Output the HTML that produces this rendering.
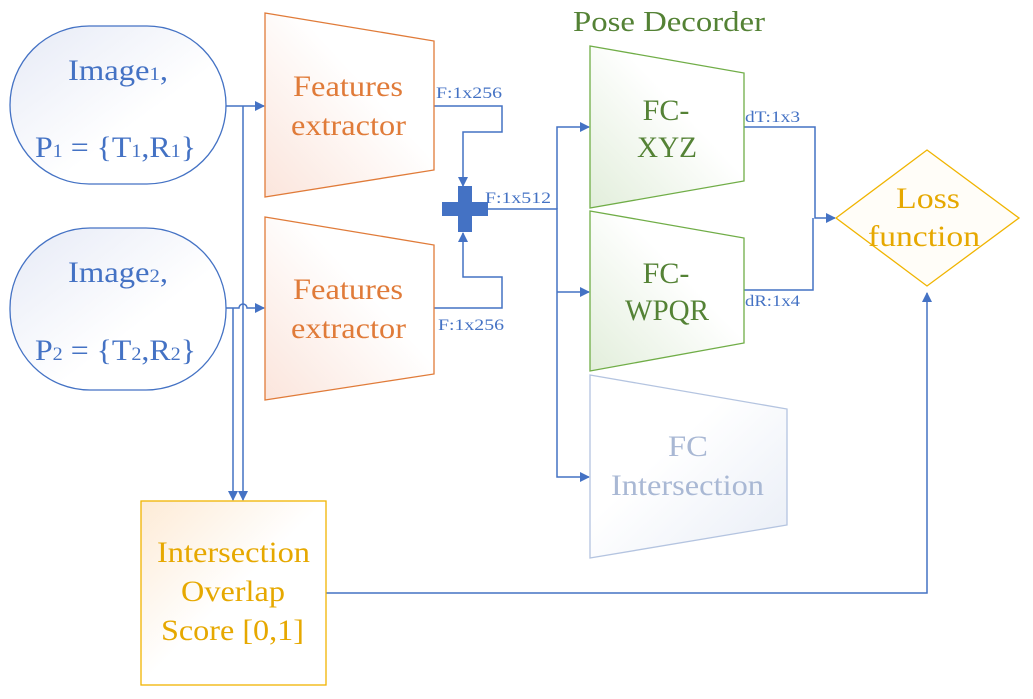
<!DOCTYPE html>
<html><head><meta charset="utf-8"><style>
html,body{margin:0;padding:0;background:#fff}
svg{display:block}
text{font-family:"Liberation Serif",serif}
</style></head><body>
<svg width="1033" height="699" viewBox="0 0 1033 699" xmlns="http://www.w3.org/2000/svg">
<defs>
<linearGradient id="gb" x1="0" y1="0" x2="1" y2="1"><stop offset="0" stop-color="#e6eaf6"/><stop offset="0.6" stop-color="#fff"/></linearGradient>
<linearGradient id="go" x1="1" y1="0" x2="0" y2="1"><stop offset="0.4" stop-color="#fff"/><stop offset="1" stop-color="#fbe5dc"/></linearGradient>
<linearGradient id="gg" x1="1" y1="0" x2="0" y2="1"><stop offset="0.4" stop-color="#fff"/><stop offset="1" stop-color="#e2eedb"/></linearGradient>
<linearGradient id="gi" x1="0" y1="0" x2="1" y2="1"><stop offset="0.4" stop-color="#fff"/><stop offset="1" stop-color="#e8edf6"/></linearGradient>
<linearGradient id="gy" x1="0" y1="0" x2="1" y2="1"><stop offset="0" stop-color="#fdebd6"/><stop offset="0.5" stop-color="#fff"/></linearGradient>
<marker id="a" markerWidth="10" markerHeight="10" refX="9" refY="5" orient="auto" markerUnits="userSpaceOnUse"><path d="M0,0 L10,5 L0,10 z" fill="#4472c4"/></marker>
</defs>
<g fill="none" stroke="#4472c4" stroke-width="1.5">
<path d="M226,106 H264" marker-end="url(#a)"/>
<path d="M226,308 H239 a4,4 0 0 1 8,0 H264" marker-end="url(#a)"/>
<path d="M243,106 V500" marker-end="url(#a)"/>
<path d="M233,308 V500" marker-end="url(#a)"/>
<path d="M434,106 H502 V132 H463 V186" marker-end="url(#a)"/>
<path d="M434,308 H502 V277 H463 V233" marker-end="url(#a)"/>
<path d="M478,209 H557 V477 H589" marker-end="url(#a)"/>
<path d="M557,209 V127 H589" marker-end="url(#a)"/>
<path d="M557,292 H589" marker-end="url(#a)"/>
<path d="M744,127 H815 V218 H835" marker-end="url(#a)"/>
<path d="M744,290 H813 V218"/>
<path d="M326,593 H927 V293" marker-end="url(#a)"/>
</g>
<rect x="10" y="26" width="216" height="158" rx="79" ry="79" fill="url(#gb)" stroke="#4472c4" stroke-width="1.3"/>
<rect x="10" y="228" width="216" height="162" rx="80" ry="80" fill="url(#gb)" stroke="#4472c4" stroke-width="1.3"/>
<g fill="#4472c4" font-size="30">
<text x="68" y="80" textLength="100" lengthAdjust="spacingAndGlyphs">Image<tspan font-size="19">1</tspan>,</text>
<text x="35" y="157" textLength="161" lengthAdjust="spacingAndGlyphs">P<tspan font-size="19">1</tspan> = {T<tspan font-size="19">1</tspan>,R<tspan font-size="19">1</tspan>}</text>
<text x="68" y="282" textLength="100" lengthAdjust="spacingAndGlyphs">Image<tspan font-size="19">2</tspan>,</text>
<text x="35" y="360" textLength="161" lengthAdjust="spacingAndGlyphs">P<tspan font-size="19">2</tspan> = {T<tspan font-size="19">2</tspan>,R<tspan font-size="19">2</tspan>}</text>
</g>
<polygon points="265,13 434,41 434,170 265,197" fill="url(#go)" stroke="#e07b39" stroke-width="1.3"/>
<polygon points="265,217 434,245 434,374 265,400" fill="url(#go)" stroke="#e07b39" stroke-width="1.3"/>
<g fill="#e07b39" font-size="30">
<text x="293" y="96" textLength="110" lengthAdjust="spacingAndGlyphs">Features</text><text x="291" y="135" textLength="115" lengthAdjust="spacingAndGlyphs">extractor</text>
<text x="293" y="299" textLength="110" lengthAdjust="spacingAndGlyphs">Features</text><text x="291" y="338" textLength="115" lengthAdjust="spacingAndGlyphs">extractor</text>
</g>
<path d="M458,186 h14 v16 h16 v14 h-16 v16 h-14 v-16 h-16 v-14 h16 z" fill="#4472c4"/>
<g fill="#4472c4" font-size="16">
<text x="436" y="98" textLength="66" lengthAdjust="spacingAndGlyphs">F:1x256</text>
<text x="438" y="330" textLength="66" lengthAdjust="spacingAndGlyphs">F:1x256</text>
<text x="485" y="203" textLength="66" lengthAdjust="spacingAndGlyphs">F:1x512</text>
<text x="745" y="122" textLength="55" lengthAdjust="spacingAndGlyphs">dT:1x3</text>
<text x="745" y="306" textLength="55" lengthAdjust="spacingAndGlyphs">dR:1x4</text>
</g>
<text x="573" y="31" fill="#548235" font-size="28" textLength="192" lengthAdjust="spacingAndGlyphs">Pose Decorder</text>
<polygon points="590,46 744,73 744,181 590,208" fill="url(#gg)" stroke="#70ad47" stroke-width="1.3"/>
<polygon points="590,211 744,238 744,343 590,371" fill="url(#gg)" stroke="#70ad47" stroke-width="1.3"/>
<polygon points="590,375 787,409 787,525 590,558" fill="url(#gi)" stroke="#b4c4e0" stroke-width="1.3"/>
<g fill="#548235" font-size="30" text-anchor="middle">
<text x="666" y="120">FC-</text><text x="667" y="157" textLength="60" lengthAdjust="spacingAndGlyphs">XYZ</text>
<text x="666" y="283">FC-</text><text x="667" y="320" textLength="84" lengthAdjust="spacingAndGlyphs">WPQR</text>
</g>
<g fill="#a9b8d4" font-size="30">
<text x="668" y="456" textLength="40" lengthAdjust="spacingAndGlyphs">FC</text><text x="611" y="495" textLength="153" lengthAdjust="spacingAndGlyphs">Intersection</text>
</g>
<polygon points="927,150 1019,218 927,286 836,218" fill="#fffdf8" stroke="#f0b400" stroke-width="1.3"/>
<g fill="#e6a800" font-size="30">
<text x="896" y="208" textLength="64" lengthAdjust="spacingAndGlyphs">Loss</text><text x="868" y="246" textLength="112" lengthAdjust="spacingAndGlyphs">function</text>
</g>
<rect x="141" y="501" width="185" height="184" fill="url(#gy)" stroke="#f0b400" stroke-width="1.3"/>
<g fill="#e6a800" font-size="30">
<text x="157" y="562" textLength="153" lengthAdjust="spacingAndGlyphs">Intersection</text><text x="181" y="601" textLength="104" lengthAdjust="spacingAndGlyphs">Overlap</text><text x="161" y="640" textLength="143" lengthAdjust="spacingAndGlyphs">Score [0,1]</text>
</g>
</svg>
</body></html>
